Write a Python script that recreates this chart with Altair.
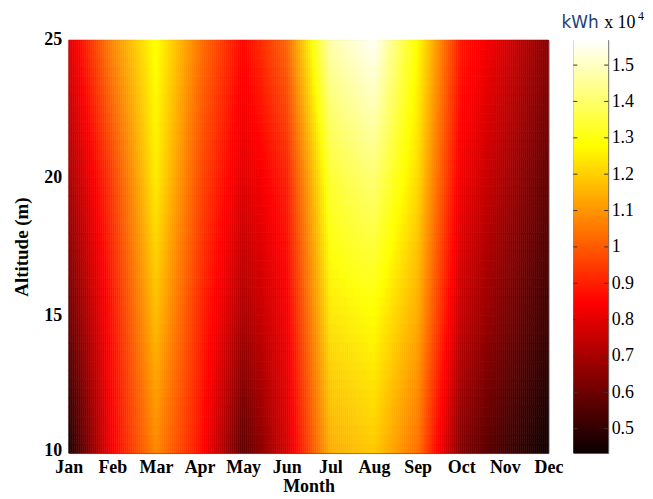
import altair as alt
import numpy as np
import pandas as pd

# ---- values (energy in units of 10^4 kWh) ----
months = ["Jan", "Feb", "Mar", "Apr", "May", "Jun",
          "Jul", "Aug", "Sep", "Oct", "Nov", "Dec"]
altitudes = [10, 15, 20, 25]
energy_alt10 = [0.46, 0.84, 1.08, 0.88, 0.57, 0.78, 1.14, 1.19, 1.04, 0.63, 0.53, 0.44]
energy_alt15 = [0.60, 0.88, 1.17, 0.92, 0.70, 0.83, 1.24, 1.28, 1.14, 0.74, 0.63, 0.52]
energy_alt20 = [0.70, 0.95, 1.25, 0.98, 0.79, 0.90, 1.33, 1.41, 1.22, 0.82, 0.71, 0.58]
energy_alt25 = [0.79, 1.08, 1.29, 1.05, 0.86, 1.02, 1.47, 1.56, 1.28, 0.89, 0.79, 0.65]
altitude_ticks = [10, 15, 20, 25]
colorbar_ticks = [0.5, 0.6, 0.7, 0.8, 0.9, 1.0, 1.1, 1.2, 1.3, 1.4, 1.5]
color_min, color_max = 0.433, 1.569

# ---- render the grid with interpolated shading (like MATLAB "shading interp") ----
grid = np.array([energy_alt10, energy_alt15, energy_alt20, energy_alt25])
nx, ny = 242, 45
xe = np.linspace(0, len(months) - 1, nx + 1)
ye = np.linspace(altitudes[0], altitudes[-1], ny + 1)
xc = (xe[:-1] + xe[1:]) / 2
yc = (ye[:-1] + ye[1:]) / 2
rows = np.array([np.interp(xc, np.arange(len(months)), r) for r in grid])
records = []
for i in range(nx):
    col = np.interp(yc, altitudes, rows[:, i])
    for j in range(ny):
        records.append((xe[i], xe[i + 1], ye[j], ye[j + 1], col[j]))
raster = pd.DataFrame(records, columns=["x0", "x1", "y0", "y1", "v"])

# MATLAB "hot" colormap breakpoints
span = color_max - color_min
hot = alt.Scale(
    domain=[color_min, color_min + 0.365 * span, color_min + 0.746 * span, color_max],
    range=["#0b0000", "#ff0000", "#ffff00", "#ffffff"],
    interpolate="rgb", clamp=True,
)

serif = "Liberation Serif"
label_expr = "[" + ",".join(f"'{m}'" for m in months) + "][datum.value]"

heat = alt.Chart(raster).mark_rect(strokeWidth=0.6).encode(
    x=alt.X("x0:Q", scale=alt.Scale(domain=[0, 11], nice=False, zero=False),
            axis=alt.Axis(values=list(range(12)), labelExpr=label_expr, title="Month",
                          ticks=False, domain=False, grid=False, labelPadding=6,
                          labelFont=serif, labelFontSize=18, labelFontWeight="bold",
                          labelColor="black", titleFont=serif, titleFontSize=18,
                          titleFontWeight="bold", titleColor="black", titlePadding=1,
                          labelOverlap=False, labelFlush=False)),
    x2="x1",
    y=alt.Y("y0:Q", scale=alt.Scale(domain=[10, 25], nice=False, zero=False),
            axis=alt.Axis(values=altitude_ticks, title="Altitude (m)",
                          ticks=False, domain=False, grid=False, labelPadding=7,
                          labelFont=serif, labelFontSize=18, labelFontWeight="bold",
                          labelColor="black", titleFont=serif, titleFontSize=19,
                          titleFontWeight="bold", titleColor="black", titlePadding=12,
                          labelOffset={"condition": {"test": "datum.value == 10", "value": -3},
                                       "value": 0},
                          labelFlush=False)),
    y2="y1",
    color=alt.Color("v:Q", scale=hot, legend=None),
    stroke=alt.Stroke("v:Q", scale=hot, legend=None),
).properties(width=482, height=415)

# ---- colorbar ----
cb = pd.DataFrame({"lo": [color_min], "hi": [color_max]})
ticks_df = pd.DataFrame({"t": colorbar_ticks})
hot_gradient = alt.LinearGradient(
    gradient="linear", x1=0, x2=0, y1=1, y2=0,
    stops=[alt.GradientStop(color="#0b0000", offset=0),
           alt.GradientStop(color="#ff0000", offset=0.365),
           alt.GradientStop(color="#ffff00", offset=0.746),
           alt.GradientStop(color="#ffffff", offset=1)],
)
cb_scale = alt.Scale(domain=[color_min, color_max], nice=False, zero=False)
cbar_rect = alt.Chart(cb).mark_rect(color=hot_gradient).encode(
    y=alt.Y("lo:Q", scale=cb_scale,
            axis=alt.Axis(orient="right", values=colorbar_ticks, format=".1~f",
                          title=None, ticks=False, domain=False, grid=False,
                          labelPadding=3, labelFont=serif, labelFontSize=18,
                          labelColor="black", labelFlush=False)),
    y2="hi",
    x=alt.value(0), x2=alt.value(35),
)
tick_l = alt.Chart(ticks_df).mark_rule(color="#333333", strokeWidth=1).encode(
    y=alt.Y("t:Q", scale=cb_scale), x=alt.value(0), x2=alt.value(4))
tick_r = alt.Chart(ticks_df).mark_rule(color="#333333", strokeWidth=1).encode(
    y=alt.Y("t:Q", scale=cb_scale), x=alt.value(31), x2=alt.value(35))
t_kwh = alt.Chart(cb).mark_text(align="left", baseline="alphabetic", font="DejaVu Sans",
                                fontSize=17, color="#23407a").encode(
    x=alt.value(-12), y=alt.value(-12), text=alt.value("kWh"))
t_x10 = alt.Chart(cb).mark_text(align="left", baseline="alphabetic", font=serif,
                                fontSize=18, color="black").encode(
    x=alt.value(31), y=alt.value(-12), text=alt.value("x 10"))
t_exp = alt.Chart(cb).mark_text(align="left", baseline="alphabetic", font=serif,
                                fontSize=12, color="black").encode(
    x=alt.value(65), y=alt.value(-20), text=alt.value("4"))

cbar = alt.layer(cbar_rect, tick_l, tick_r, t_kwh, t_x10, t_exp).properties(width=35, height=415)

chart = alt.hconcat(heat, cbar, spacing=25, bounds="flush").resolve_scale(
    color="independent", y="independent"
).properties(
    padding={"left": 4, "top": 0, "right": 0, "bottom": 0},
    background="white",
).configure_view(stroke="#555555", strokeWidth=1)

chart.save("out.html", embed_options={"renderer": "svg", "actions": False})
